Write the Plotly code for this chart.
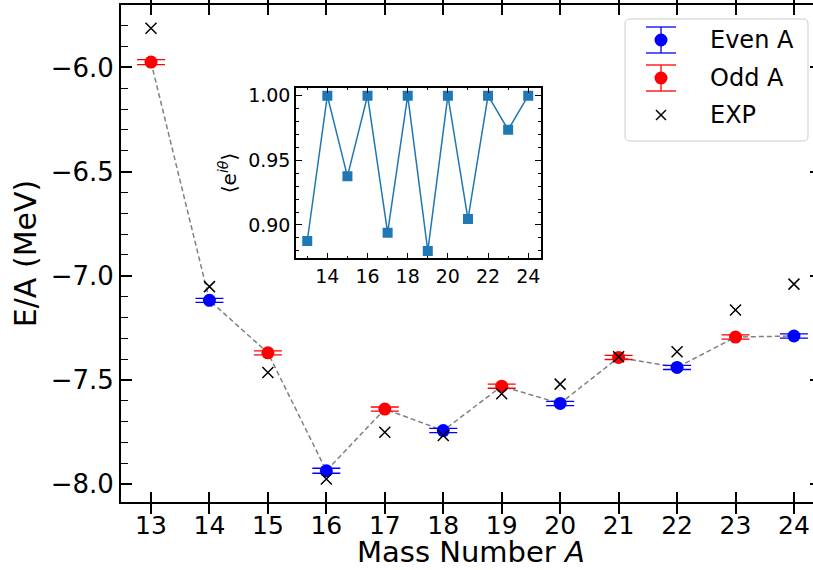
import plotly.graph_objects as go

# ---------------- data ----------------
mass_number = [13, 14, 15, 16, 17, 18, 19, 20, 21, 22, 23, 24]
ea_calc = [-5.974, -7.118, -7.370, -7.936, -7.640, -7.743,
           -7.530, -7.613, -7.392, -7.440, -7.294, -7.289]
ea_err = [0.012, 0.01, 0.01, 0.012, 0.01, 0.01, 0.01, 0.01, 0.01, 0.01, 0.01, 0.01]
ea_exp = [-5.812, -7.052, -7.464, -7.976, -7.751, -7.767,
          -7.566, -7.52, -7.389, -7.365, -7.164, -7.040]
phase = [0.8876, 1.0, 0.9376, 1.0, 0.894, 1.0, 0.8799, 1.0, 0.9046, 1.0, 0.9737, 1.0]

legend_labels = ["Even A", "Odd A", "EXP"]
x_title = "Mass Number <i>A</i>"

even_x = [a for a in mass_number if a % 2 == 0]
even_y = [v for a, v in zip(mass_number, ea_calc) if a % 2 == 0]
even_e = [e for a, e in zip(mass_number, ea_err) if a % 2 == 0]
odd_x = [a for a in mass_number if a % 2 == 1]
odd_y = [v for a, v in zip(mass_number, ea_calc) if a % 2 == 1]
odd_e = [e for a, e in zip(mass_number, ea_err) if a % 2 == 1]

# ---------------- geometry ----------------
W_FIG, H_FIG = 813, 570
L, R, T, B = 121, 813, 5, 502
PW, PH = R - L, B - T


def pxx(x):
    return (x - L) / PW


def pyy(y):
    return (B - y) / PH


FONT = "DejaVu Sans"
BLUE = "#0000ff"
RED = "#ff0000"
TAB = "#1f77b4"

fig = go.Figure()

# dashed connecting line
fig.add_trace(go.Scatter(x=mass_number, y=ea_calc, mode="lines",
                         line=dict(color="#808080", width=1.5, dash="5px,3px"),
                         showlegend=False, hoverinfo="skip"))
# even
fig.add_trace(go.Scatter(x=even_x, y=even_y, mode="markers",
                         marker=dict(color=BLUE, size=13, line=dict(width=0)),
                         error_y=dict(type="data", array=even_e, color=BLUE,
                                      thickness=1.3, width=14),
                         showlegend=False))
# odd
fig.add_trace(go.Scatter(x=odd_x, y=odd_y, mode="markers",
                         marker=dict(color=RED, size=13, line=dict(width=0)),
                         error_y=dict(type="data", array=odd_e, color=RED,
                                      thickness=1.3, width=14),
                         showlegend=False))
# experiment
fig.add_trace(go.Scatter(x=mass_number, y=ea_exp, mode="markers",
                         marker=dict(symbol="x-thin", size=11, color="black",
                                     line=dict(color="black", width=1.5)),
                         showlegend=False))

# inset
fig.add_trace(go.Scatter(x=mass_number, y=phase, mode="lines+markers",
                         xaxis="x2", yaxis="y2",
                         line=dict(color=TAB, width=1.5),
                         marker=dict(symbol="square", size=10, color=TAB),
                         showlegend=False))

x_lo = 13 - 30 / 58.45
x_hi = 13 + (R - 151) / 58.45
y_lo, y_hi = -8.086, -5.70

axis_common = dict(showgrid=False, zeroline=False, automargin=False,
                   linecolor="black", tickcolor="black")

fig.update_layout(
    width=W_FIG, height=H_FIG,
    margin=dict(l=L, r=W_FIG - R, t=T, b=H_FIG - B, pad=0),
    paper_bgcolor="white", plot_bgcolor="white",
    font=dict(family=FONT, color="black"),
    showlegend=False,
    xaxis=dict(**axis_common, range=[x_lo, x_hi], tick0=13, dtick=1,
               showline=True, linewidth=2, mirror="allticks",
               ticks="inside", ticklen=10, tickwidth=1.5,
               tickfont=dict(size=25, family=FONT)),
    yaxis=dict(**axis_common, range=[y_lo, y_hi], tick0=-8, dtick=0.5,
               tickformat=".1f",
               showline=True, linewidth=2, mirror=False,
               ticks="inside", ticklen=11, tickwidth=1.5,
               minor=dict(dtick=0.1, ticks="inside", ticklen=7, tickwidth=1.2,
                          tickcolor="black", showgrid=False),
               tickfont=dict(size=26, family=FONT),
               title=dict(text="E/A (MeV)", font=dict(size=30, family=FONT),
                          standoff=5)),
    yaxis3=dict(**axis_common, range=[y_lo, y_hi], tick0=-8, dtick=0.5,
                overlaying="y", side="right", showline=False,
                ticks="inside", ticklen=3, tickwidth=1.5,
                showticklabels=False),
    xaxis2=dict(**axis_common, domain=[pxx(296), pxx(540.7)], anchor="y2",
                range=[12.44, 24.62], tick0=14, dtick=2,
                showline=True, linewidth=1.5, mirror="allticks",
                ticks="inside", ticklen=6, tickwidth=1.2,
                minor=dict(dtick=1, ticks="inside", ticklen=3, tickwidth=1,
                           tickcolor="black", showgrid=False),
                tickfont=dict(size=19, family=FONT)),
    yaxis2=dict(**axis_common, domain=[pyy(258.3), pyy(87.7)], anchor="x2",
                range=[0.8742, 1.0062], tick0=0.9, dtick=0.05, tickformat=".2f",
                showline=True, linewidth=1.5, mirror="allticks",
                ticks="inside", ticklen=6, tickwidth=1.2,
                minor=dict(dtick=0.01, ticks="inside", ticklen=3, tickwidth=1,
                           tickcolor="black", showgrid=False),
                tickfont=dict(size=19, family=FONT),
                title=dict(text="⟨e<sup><i>iθ</i></sup>⟩", font=dict(size=20, family=FONT),
                           standoff=6)),
)

# invisible trace to activate the right-side tick axis
fig.add_trace(go.Scatter(x=[mass_number[0]], y=[ea_calc[0]], yaxis="y3",
                         mode="markers", marker=dict(opacity=0),
                         showlegend=False, hoverinfo="skip"))

# ---------------- custom legend ----------------
shapes = []
annotations = []
bx0, bx1, by0, by1, rr = 625, 808, 19, 141, 5
path = (f"M {pxx(bx0 + rr)},{pyy(by0)} L {pxx(bx1 - rr)},{pyy(by0)} "
        f"Q {pxx(bx1)},{pyy(by0)} {pxx(bx1)},{pyy(by0 + rr)} "
        f"L {pxx(bx1)},{pyy(by1 - rr)} Q {pxx(bx1)},{pyy(by1)} {pxx(bx1 - rr)},{pyy(by1)} "
        f"L {pxx(bx0 + rr)},{pyy(by1)} Q {pxx(bx0)},{pyy(by1)} {pxx(bx0)},{pyy(by1 - rr)} "
        f"L {pxx(bx0)},{pyy(by0 + rr)} Q {pxx(bx0)},{pyy(by0)} {pxx(bx0 + rr)},{pyy(by0)} Z")
shapes.append(dict(type="path", path=path, xref="paper", yref="paper",
                   line=dict(color="#cccccc", width=1), fillcolor="rgba(255,255,255,0.8)"))

sx = 661
entry_y = [40, 78, 115]
colors = [BLUE, RED]
for i, c in enumerate(colors):
    cy = entry_y[i]
    for yy in (cy - 13, cy + 13):
        shapes.append(dict(type="line", xref="paper", yref="paper",
                           x0=pxx(sx - 15), x1=pxx(sx + 15), y0=pyy(yy), y1=pyy(yy),
                           line=dict(color=c, width=1.3)))
    shapes.append(dict(type="line", xref="paper", yref="paper",
                       x0=pxx(sx), x1=pxx(sx), y0=pyy(cy - 13), y1=pyy(cy + 13),
                       line=dict(color=c, width=1.3)))
    shapes.append(dict(type="circle", xref="paper", yref="paper",
                       x0=pxx(sx - 6.5), x1=pxx(sx + 6.5), y0=pyy(cy - 6.5), y1=pyy(cy + 6.5),
                       fillcolor=c, line=dict(width=0)))
cy = entry_y[2]
for d in (1, -1):
    shapes.append(dict(type="line", xref="paper", yref="paper",
                       x0=pxx(sx - 5), x1=pxx(sx + 5), y0=pyy(cy - 5 * d), y1=pyy(cy + 5 * d),
                       line=dict(color="black", width=1.5)))
for lab, yy in zip(legend_labels, entry_y):
    annotations.append(dict(text=lab, x=pxx(708), y=pyy(yy), xref="paper", yref="paper",
                            xanchor="left", yanchor="middle", showarrow=False,
                            font=dict(size=24, family=FONT, color="black")))

# x-axis title as an annotation (precise placement)
annotations.append(dict(text=x_title, x=pxx(471), y=pyy(552), xref="paper", yref="paper",
                        xanchor="center", yanchor="middle", showarrow=False,
                        font=dict(size=29, family=FONT, color="black")))

fig.update_layout(shapes=shapes, annotations=annotations)

fig.write_html("out.html")
